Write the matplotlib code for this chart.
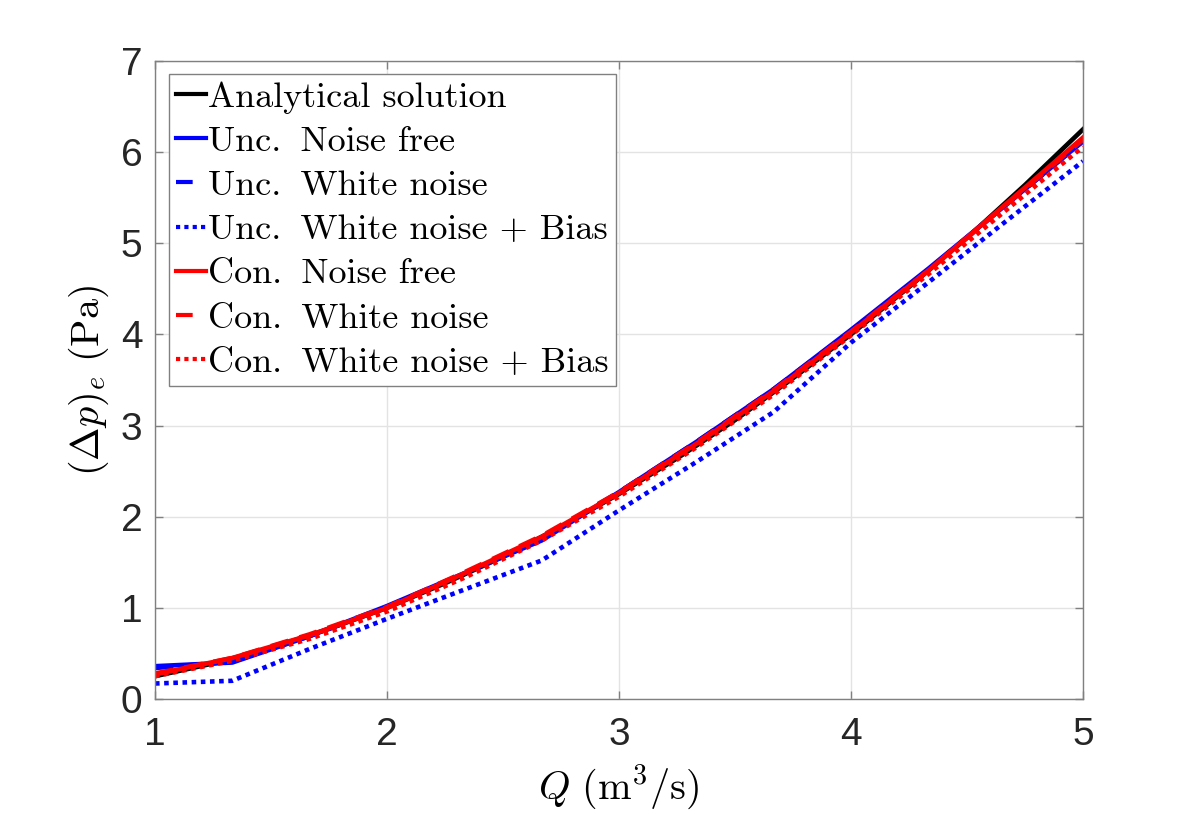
import matplotlib
matplotlib.use("Agg")
import matplotlib.pyplot as plt
from matplotlib.lines import Line2D

plt.rcParams['mathtext.fontset'] = 'cm'

# ---- data ----
q_analytical = [1.0, 1.25, 1.5, 1.75, 2.0, 2.25, 2.5, 2.75, 3.0, 3.25, 3.5, 3.75, 4.0, 4.25, 4.5, 4.75, 5.0]
dp_analytical = [0.25, 0.39, 0.56, 0.77, 1.00, 1.27, 1.56, 1.89, 2.25, 2.64, 3.06, 3.52, 4.00, 4.52, 5.06, 5.64, 6.25]

q = [1.0, 1.333, 1.667, 2.0, 2.333, 2.667, 3.0, 3.333, 3.667, 4.0, 4.333, 4.667, 5.0]
unc_noise_free = [0.36, 0.40, 0.69, 1.02, 1.38, 1.74, 2.27, 2.82, 3.40, 4.05, 4.72, 5.42, 6.12]
unc_white = [0.34, 0.41, 0.69, 1.01, 1.38, 1.77, 2.27, 2.82, 3.40, 4.04, 4.71, 5.42, 6.12]
unc_white_bias = [0.17, 0.20, 0.55, 0.88, 1.20, 1.52, 2.07, 2.60, 3.15, 3.91, 4.57, 5.24, 5.90]
con_noise_free = [0.27, 0.45, 0.70, 1.00, 1.38, 1.78, 2.26, 2.80, 3.38, 4.02, 4.70, 5.43, 6.16]
con_white = [0.28, 0.45, 0.71, 1.01, 1.39, 1.79, 2.27, 2.81, 3.39, 4.03, 4.70, 5.42, 6.14]
con_white_bias = [0.25, 0.42, 0.66, 0.96, 1.33, 1.74, 2.22, 2.76, 3.34, 3.99, 4.66, 5.36, 6.06]

labels = ['Analytical solution',
          'Unc. \u2009Noise free',
          'Unc. \u2009White noise',
          'Unc. \u2009White noise + Bias',
          'Con. \u2009Noise free',
          'Con. \u2009White noise',
          'Con. \u2009White noise + Bias']
x_ticks = [1, 2, 3, 4, 5]
y_ticks = [0, 1, 2, 3, 4, 5, 6, 7]

# ---- figure ----
W, H = 1196, 814
fig = plt.figure(figsize=(W / 100, H / 100), dpi=100)
L, R, T, B = 155, 1083, 61, 699
ax = fig.add_axes([L / W, 1 - B / H, (R - L) / W, (B - T) / H])

lw = 3.3
dash = (0, (4, 2.5))
dot = (0, (1, 1))
series = [
    (q_analytical, dp_analytical, 'black', '-'),
    (q, unc_noise_free, '#0000ff', '-'),
    (q, unc_white, '#0000ff', dash),
    (q, unc_white_bias, '#0000ff', dot),
    (q, con_noise_free, '#ff0000', '-'),
    (q, con_white, '#ff0000', dash),
    (q, con_white_bias, '#ff0000', dot),
]
handles = []
for (xs, ys, c, ls), lab in zip(series, labels):
    ax.plot(xs, ys, color=c, lw=lw, ls=ls)
    hls = (0, (4, 4)) if ls == dash else ls
    handles.append(Line2D([], [], color=c, lw=3.0, ls=hls, label=lab))

ax.set_xlim(1, 5)
ax.set_ylim(0, 7)
ax.set_xticks(x_ticks)
ax.set_yticks(y_ticks)
ax.grid(True, color='#e3e3e3', lw=1.0)
ax.set_axisbelow(True)
for s in ax.spines.values():
    s.set_color('#808080')
    s.set_linewidth(1.0)
ax.tick_params(direction='in', length=6, width=1.0, color='#808080',
               top=True, right=True, labelsize=28, labelcolor='#262626')
ax.tick_params(axis='x', pad=13)
ax.tick_params(axis='y', pad=9)
for lab in ax.get_xticklabels() + ax.get_yticklabels():
    lab.set_fontfamily('Liberation Sans')

ax.set_xlabel(r'$Q\ (\mathrm{m}^3/\mathrm{s})$', fontsize=29, va='center')
ax.xaxis.set_label_coords(0.5, -(787 - B) / (B - T))
ax.set_ylabel(r'$(\Delta p)_e\ (\mathrm{Pa})$', fontsize=29, va='center')
ax.yaxis.set_label_coords(-(L - 89) / (R - L), 0.5)

leg = ax.legend(handles=handles, loc='upper left',
                bbox_to_anchor=((169 - L) / (R - L), (B - 74) / (B - T)),
                borderaxespad=0, prop={'family': ['cmr10', 'DejaVu Serif'], 'size': 26},
                handlelength=0.83, handletextpad=0.05, borderpad=0.2,
                labelspacing=0.33, fancybox=False, framealpha=1)
leg.get_frame().set_edgecolor('#808080')
leg.get_frame().set_linewidth(1.0)

fig.savefig('out.png', dpi=100)
